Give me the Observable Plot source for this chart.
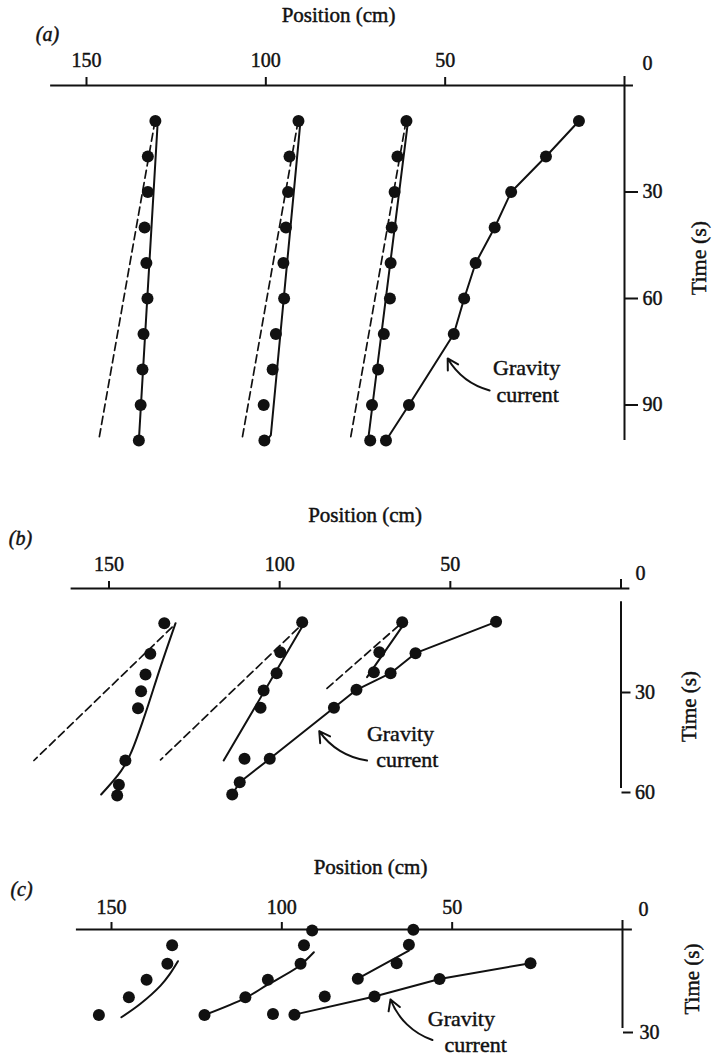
<!DOCTYPE html>
<html>
<head>
<meta charset="utf-8">
<script src="https://cdn.jsdelivr.net/npm/d3@7"></script>
<script src="https://cdn.jsdelivr.net/npm/@observablehq/plot@0.6"></script>
<style>
  html, body { margin: 0; padding: 0; background: #fff; }
  #chart { position: relative; width: 712px; height: 1058px; overflow: hidden; }
  #chart svg { display: block; }
</style>
</head>
<body>
<div id="chart"></div>
<script>
// ---------------- Panel (a) data ----------------
const timeA = [10, 20, 30, 40, 50, 60, 70, 80, 90, 100];
const posA1 = [130.8, 132.9, 132.9, 133.8, 133.3, 133.0, 134.1, 134.4, 134.9, 135.4];
const posA2 = [90.9, 93.4, 93.8, 94.4, 95.1, 94.9, 97.2, 98.1, 100.6, 100.4];
const posA3 = [60.8, 63.3, 64.1, 64.9, 65.2, 65.4, 67.1, 68.7, 70.4, 70.9];
const gravTimeA = [10, 20, 30, 40, 50, 60, 70, 90, 100];
const gravPosA = [12.7, 21.9, 31.6, 36.2, 41.5, 44.7, 47.6, 60.1, 66.5];
const fitA1Pos = [130.1, 135.4], fitA1Time = [9.5, 100];
const fitA2Pos = [90.3, 98.6, 100.2], fitA2Time = [9.6, 98.5, 100.5];
const fitA3Pos = [60.3, 71.5], fitA3Time = [9.6, 100];
const dashA1Pos = [130.9, 146.6], dashA1Time = [10, 100];
const dashA2Pos = [91.0, 106.7], dashA2Time = [10, 100];
const dashA3Pos = [60.9, 76.5], dashA3Time = [10, 100];
const xTicksA = [150, 100, 50];
const yTicksA = [30, 60, 90];
const labelPosA = [27.3, 27.0], labelTimeA = [79.7, 87.3];
const arrowA = {p1: 37.6, t1: 85.9, p2: 49.3, t2: 76.9};

// ---------------- Panel (b) data ----------------
const timeB1 = [10.4, 19.6, 25.8, 30.8, 35.9, 51.6, 58.9, 62.1];
const posB1 = [133.8, 137.9, 139.3, 140.6, 141.5, 145.2, 147.1, 147.6];
const timeB2 = [10.1, 19.1, 25.4, 30.6, 35.8, 51.1];
const posB2 = [93.4, 99.8, 100.9, 104.7, 105.6, 110.3];
const timeB3 = [10.1, 19.1, 25.1];
const posB3 = [64.1, 70.8, 72.4];
const gravTimeB = [10, 19.4, 25.4, 30.4, 35.8, 51.1, 58.1, 61.8];
const gravPosB = [36.6, 60.2, 67.5, 77.5, 84.1, 102.9, 111.7, 113.9];
const fitB1Pos = [130.5, 134.9, 139.6, 143.7, 146.5, 152.3], fitB1Time = [10.4, 23.5, 38.3, 49.6, 54.8, 61.8];
const fitB2Pos = [92.9, 116.4], fitB2Time = [10.6, 51.6];
const fitB3Pos = [63.4, 74.4], fitB3Time = [10.4, 26.6];
const dashB1Pos = [131.5, 172.0], dashB1Time = [11.6, 51.6];
const dashB2Pos = [94.6, 134.9], dashB2Time = [11.9, 51.4];
const dashB3Pos = [65.1, 86.6], dashB3Time = [11.1, 30.4];
const xTicksB = [150, 100, 50];
const yTicksB = [30, 60];
const labelPosB = [64.6, 62.6], labelTimeB = [43.5, 51.3];
const arrowB = {p1: 74.4, t1: 51.6, p2: 88.4, t2: 42.8};

// ---------------- Panel (c) data ----------------
const timeC1 = [4.8, 10.4, 15.2, 20.5, 25.9];
const posC1 = [132.2, 133.6, 139.7, 144.9, 153.7];
const timeC2 = [0.3, 4.8, 10.4, 15.2, 20.5, 25.9];
const posC2 = [91.1, 93.5, 94.5, 104.1, 110.7, 122.7];
const timeC3 = [0.1, 4.6, 10.2, 14.9, 20.3, 25.6];
const posC3 = [61.4, 62.7, 66.3, 77.7, 87.4, 102.6];
const gravTimeC = [10.2, 15.0, 20.3, 25.8];
const gravPosC = [27.0, 53.7, 72.8, 96.3];
const fitC1Pos = [130.5, 132.9, 135.6, 141.5, 147.1], fitC1Time = [9.6, 13.5, 17.0, 22.5, 26.6];
const fitC2Pos = [90.6, 95.2, 104.3, 110.6, 122.7], fitC2Time = [6.9, 11.3, 16.8, 20.7, 25.9];
const fitC3Pos = [62.7, 77.7], fitC3Time = [6.4, 14.9];
const xTicksC = [150, 100, 50];
const yTicksC = [30];
const labelPosC = [47.3, 43.1], labelTimeC = [27.0, 35.0];
const arrowC = {p1: 55.8, t1: 33.5, p2: 68.1, t2: 21.2};

const gravityLabel = ["Gravity", "current"];

// ---------------- drawing ----------------
const INK = "#111";
const FONT = "'Liberation Serif', 'Times New Roman', serif";
const TS = 0.45; // text outline to thicken print-like glyphs
const zip = (ps, ts) => ps.map((p, i) => ({p, t: ts[i]}));

function panel(cfg) {
  const marks = [];
  const txt = {fill: INK, stroke: INK, strokeWidth: TS};
  // x axis line (top)
  marks.push(Plot.ruleY([0], {x1: cfg.axisFrom, x2: cfg.axisTo, stroke: INK, strokeWidth: 2}));
  // y axis line (right, at position 0)
  marks.push(Plot.ruleX([0], {y1: cfg.yAxisFrom, y2: cfg.yMax, stroke: INK, strokeWidth: 2}));
  // x ticks
  marks.push(Plot.axisX(cfg.xTicks, {anchor: "top", tickSize: cfg.xTickSize, stroke: INK, strokeWidth: 2, fill: "none", label: null}));
  marks.push(Plot.axisX([0], {anchor: "top", tickSize: cfg.zeroTickSize, stroke: INK, strokeWidth: 2, fill: "none", label: null}));
  // x tick labels
  marks.push(Plot.text(cfg.xTicks, {x: d => d, text: d => String(d), frameAnchor: "top", textAnchor: "middle", lineAnchor: "middle", dy: -cfg.xLabelGap, fontSize: 20, ...txt}));
  marks.push(Plot.text([0], {x: d => d, text: d => String(d), frameAnchor: "top", textAnchor: "middle", lineAnchor: "middle", dx: cfg.zeroDx, dy: -cfg.zeroGap, fontSize: 20, ...txt}));
  // y ticks + labels
  marks.push(Plot.axisY(cfg.yTicks, {anchor: "right", tickSize: cfg.yTickSize, tickPadding: cfg.yTickPadding, stroke: INK, strokeWidth: 2, fill: INK, textStroke: INK, textStrokeWidth: TS, fontSize: 20, dy: cfg.yLabelDy, label: null, tickFormat: d => String(d)}));
  // axis titles
  marks.push(Plot.text(["Position (cm)"], {frameAnchor: "top", textAnchor: "middle", lineAnchor: "middle", dx: cfg.titleDx, dy: cfg.titleDy, fontSize: 21, ...txt}));
  marks.push(Plot.text(["Time (s)"], {frameAnchor: "right", textAnchor: "middle", lineAnchor: "middle", rotate: -90, dx: cfg.timeDx, dy: cfg.timeDy, fontSize: cfg.timeSize, ...txt}));
  marks.push(Plot.text([cfg.letter], {frameAnchor: "top-left", textAnchor: "middle", lineAnchor: "middle", dx: cfg.letterDx, dy: cfg.letterDy, fontSize: 20, fontStyle: "italic", ...txt}));
  // dashed lines
  for (const [ps, ts] of cfg.dashed) {
    marks.push(Plot.line(zip(ps, ts), {x: "p", y: "t", stroke: INK, strokeWidth: 1.7, strokeDasharray: "8,4.5"}));
  }
  // fitted solid lines
  for (const [ps, ts] of cfg.fits) {
    marks.push(Plot.line(zip(ps, ts), {x: "p", y: "t", stroke: INK, strokeWidth: 2, curve: ps.length > 3 ? "catmull-rom" : "linear"}));
  }
  // gravity current line
  marks.push(Plot.line(zip(cfg.grav[0], cfg.grav[1]), {x: "p", y: "t", stroke: INK, strokeWidth: 2}));
  // dots
  for (const [ps, ts] of cfg.dots.concat([cfg.grav])) {
    marks.push(Plot.dot(zip(ps, ts), {x: "p", y: "t", r: 6, fill: INK, stroke: "none"}));
  }
  // annotation
  marks.push(Plot.text(gravityLabel, {x: (d, i) => cfg.labelPos[i], y: (d, i) => cfg.labelTime[i], text: d => d, fontSize: 22, textAnchor: "middle", ...txt}));
  marks.push(Plot.arrow([cfg.arrow], {x1: "p1", y1: "t1", x2: "p2", y2: "t2", bend: cfg.bend, stroke: INK, strokeWidth: 2, headLength: 9}));

  return Plot.plot({
    width: 712,
    height: cfg.height,
    marginLeft: cfg.ml, marginRight: cfg.mr, marginTop: cfg.mt, marginBottom: cfg.mb,
    x: {domain: [0, 150], reverse: true},
    y: {domain: [0, cfg.yMax], reverse: true},
    style: {fontFamily: FONT, fontSize: "20px", color: INK, background: "white"},
    marks
  });
}

const chart = document.getElementById("chart");

chart.append(panel({
  height: 460, ml: 86, mr: 88, mt: 85, mb: 20, yMax: 100, yAxisFrom: 0,
  axisFrom: 160, axisTo: -2.5,
  xTicks: xTicksA, yTicks: yTicksA, xTickSize: 9, zeroTickSize: 10,
  xLabelGap: 25, zeroDx: 23, zeroGap: 22,
  yTickSize: 13, yTickPadding: 5, yLabelDy: 0,
  titleDx: -17, titleDy: -70, timeDx: 74, timeDy: -5, timeSize: 22,
  letter: "(a)", letterDx: -39, letterDy: -51,
  dashed: [[dashA1Pos, dashA1Time], [dashA2Pos, dashA2Time], [dashA3Pos, dashA3Time]],
  fits: [[fitA1Pos, fitA1Time], [fitA2Pos, fitA2Time], [fitA3Pos, fitA3Time]],
  dots: [[posA1, timeA], [posA2, timeA], [posA3, timeA]],
  grav: [gravPosA, gravTimeA],
  labelPos: labelPosA, labelTime: labelTimeA, arrow: arrowA, bend: 22
}));

chart.append(panel({
  height: 350, ml: 108.5, mr: 91.5, mt: 128, mb: 22, yMax: 60, yAxisFrom: 4,
  axisFrom: 161.1, axisTo: -2.6,
  xTicks: xTicksB, yTicks: yTicksB, xTickSize: 8, zeroTickSize: 10,
  xLabelGap: 24, zeroDx: 19.5, zeroGap: 15,
  yTickSize: 9, yTickPadding: 5, yLabelDy: 4,
  titleDx: 0, titleDy: -73, timeDx: 68.5, timeDy: 18, timeSize: 21,
  letter: "(b)", letterDx: -88.5, letterDy: -50,
  dashed: [[dashB1Pos, dashB1Time], [dashB2Pos, dashB2Time], [dashB3Pos, dashB3Time]],
  fits: [[fitB1Pos, fitB1Time], [fitB2Pos, fitB2Time], [fitB3Pos, fitB3Time]],
  dots: [[posB1, timeB1], [posB2, timeB2], [posB3, timeB3]],
  grav: [gravPosB, gravTimeB],
  labelPos: labelPosB, labelTime: labelTimeB, arrow: arrowB, bend: 24
}));

chart.append(panel({
  height: 248, ml: 111, mr: 90, mt: 119, mb: 30, yMax: 30, yAxisFrom: 0,
  axisFrom: 160.3, axisTo: -2.9,
  xTicks: xTicksC, yTicks: yTicksC, xTickSize: 8, zeroTickSize: 10,
  xLabelGap: 22, zeroDx: 21, zeroGap: 19.5,
  yTickSize: 10, yTickPadding: 7, yLabelDy: 4,
  titleDx: 3.5, titleDy: -62, timeDx: 70, timeDy: 0, timeSize: 21,
  letter: "(c)", letterDx: -90, letterDy: -40,
  dashed: [],
  fits: [[fitC1Pos, fitC1Time], [fitC2Pos, fitC2Time], [fitC3Pos, fitC3Time]],
  dots: [[posC1, timeC1], [posC2, timeC2], [posC3, timeC3]],
  grav: [gravPosC, gravTimeC],
  labelPos: labelPosC, labelTime: labelTimeC, arrow: arrowC, bend: 25
}));
</script>
</body>
</html>
